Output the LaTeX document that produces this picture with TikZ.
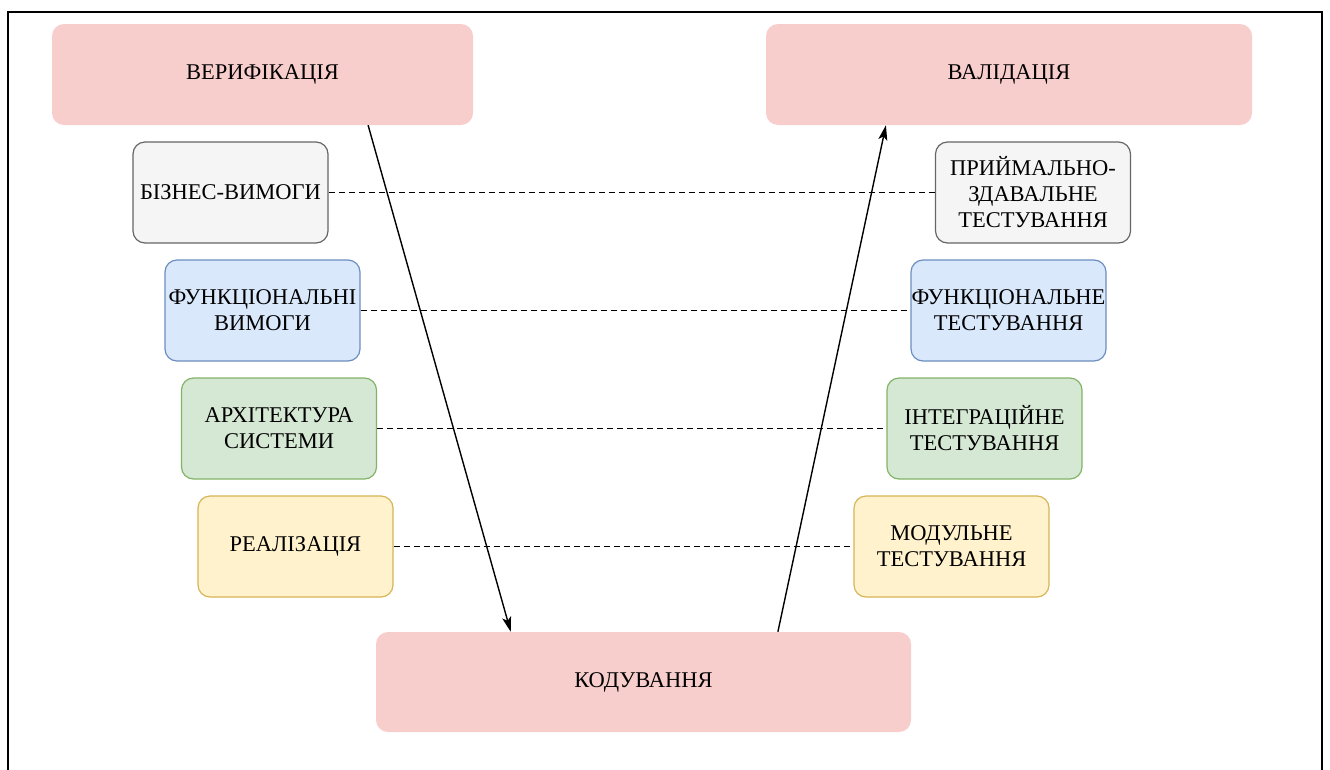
\documentclass[tikz,border=0pt]{standalone}
\usepackage{fontspec}
\setmainfont{Liberation Serif}
\usetikzlibrary{arrows.meta,calc}

\definecolor{redfill}{HTML}{F8CECC}
\definecolor{greyfill}{HTML}{F5F5F5}
\definecolor{greyline}{HTML}{666666}
\definecolor{bluefill}{HTML}{DAE8FC}
\definecolor{blueline}{HTML}{6C8EBF}
\definecolor{greenfill}{HTML}{D5E8D4}
\definecolor{greenline}{HTML}{82B366}
\definecolor{yellowfill}{HTML}{FFF2CC}
\definecolor{yellowline}{HTML}{D6B656}

\tikzset{
  box/.style={rectangle, rounded corners=12pt, inner sep=0pt, align=center,
    minimum width=195pt, minimum height=101pt,
    font=\fontsize{22.5}{26}\selectfont},
  phase/.style={box, fill=redfill, draw=none},
  greybox/.style={box, fill=greyfill, draw=greyline, line width=1.2pt},
  bluebox/.style={box, fill=bluefill, draw=blueline, line width=1.2pt},
  greenbox/.style={box, fill=greenfill, draw=greenline, line width=1.2pt},
  yellowbox/.style={box, fill=yellowfill, draw=yellowline, line width=1.2pt},
  link/.style={dash pattern=on 6pt off 4pt, line width=1pt},
  flow/.style={line width=1.4pt, -{Stealth[length=15pt,width=9pt,inset=3.5pt]}},
}

\begin{document}
\begin{tikzpicture}[x=1pt,y=-1pt]
  \useasboundingbox (0,0) rectangle (1330,769);
  % outer frame, open at the lower edge
  \begin{scope}
    \clip (0,0) rectangle (1330,769);
    \draw[line width=2pt] (8,790) -- (8,12) -- (1322,12) -- (1322,790);
  \end{scope}

  % phases
  \node[phase, minimum width=421pt] (ver) at (262.5,74.5) {ВЕРИФІКАЦІЯ};
  \node[phase, minimum width=486pt] (val) at (1009,74.5) {ВАЛІДАЦІЯ};
  \node[phase, minimum width=535pt, minimum height=100pt] (cod) at (643.5,682) {КОДУВАННЯ};

  % left branch
  \node[greybox]   (biz)  at (230.5,192.5) {БІЗНЕС-ВИМОГИ};
  \node[bluebox]   (freq) at (262.5,310.5) {ФУНКЦІОНАЛЬНІ\\ВИМОГИ};
  \node[greenbox]  (arch) at (279,428.5)   {АРХІТЕКТУРА\\СИСТЕМИ};
  \node[yellowbox] (impl) at (295.5,546.5) {РЕАЛІЗАЦІЯ};

  % right branch
  \node[greybox]   (acc)  at (1033,192.5)  {ПРИЙМАЛЬНО-\\ЗДАВАЛЬНЕ\\ТЕСТУВАННЯ};
  \node[bluebox]   (ftst) at (1008.5,310.5) {ФУНКЦІОНАЛЬНЕ\\ТЕСТУВАННЯ};
  \node[greenbox]  (itst) at (984.5,428.5) {ІНТЕГРАЦІЙНЕ\\ТЕСТУВАННЯ};
  \node[yellowbox] (mtst) at (951.5,546.5) {МОДУЛЬНЕ\\ТЕСТУВАННЯ};

  % level links
  \draw[link] (biz.east)  -- (acc.west);
  \draw[link] (freq.east) -- (ftst.west);
  \draw[link] (arch.east) -- (itst.west);
  \draw[link] (impl.east) -- (mtst.west);

  % V flow
  \draw[flow] ($(ver.south west)!0.7506!(ver.south east)$) -- ($(cod.north west)!0.252!(cod.north east)$);
  \draw[flow] ($(cod.north west)!0.751!(cod.north east)$) -- ($(val.south west)!0.247!(val.south east)$);
\end{tikzpicture}
\end{document}
